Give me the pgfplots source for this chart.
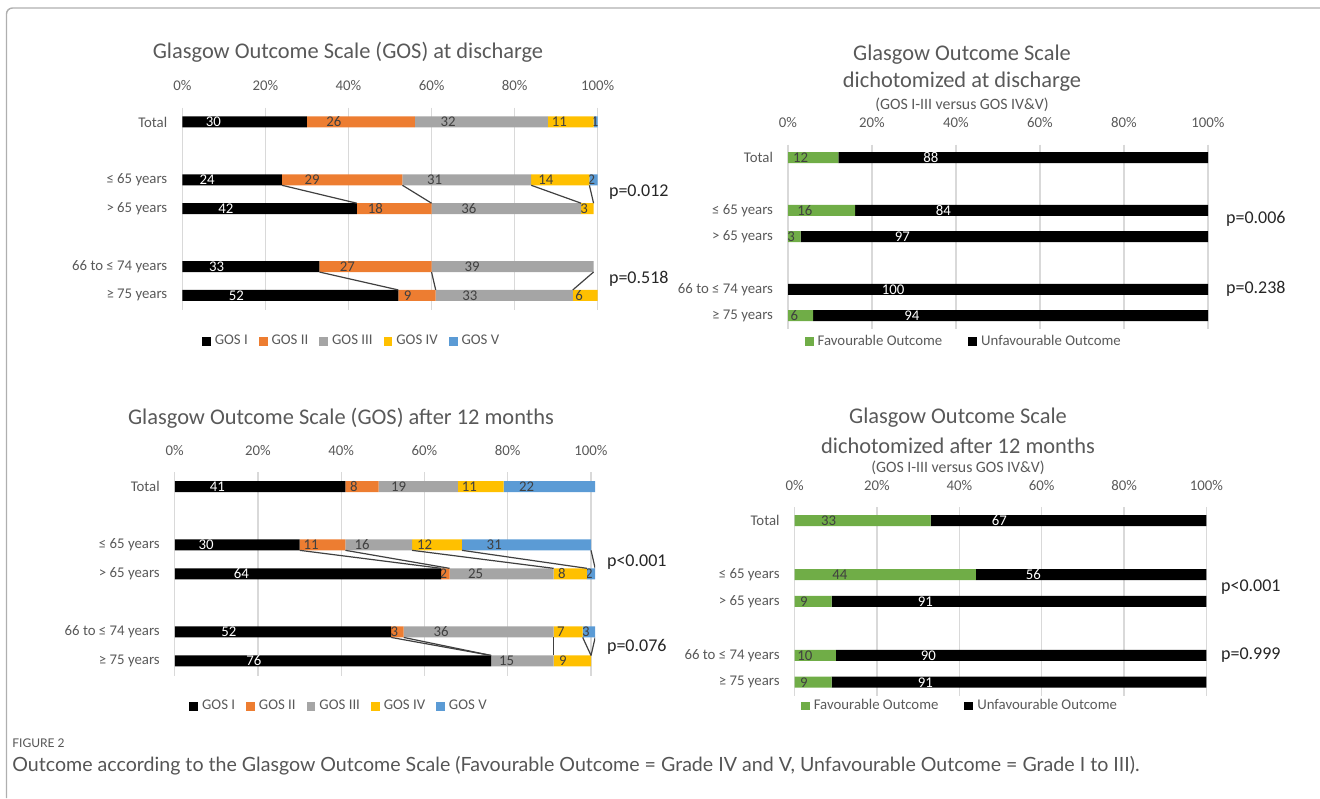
\documentclass[border=0pt]{standalone}
\usepackage{pgfplots}
\pgfplotsset{compat=1.18}
\usepackage{fontspec}
\setmainfont{Carlito}
\newfontfamily\capfont{Lato}

\definecolor{gosI}{HTML}{000000}
\definecolor{gosII}{HTML}{ED7D31}
\definecolor{gosIII}{HTML}{A5A5A5}
\definecolor{gosIV}{HTML}{FFC000}
\definecolor{gosV}{HTML}{5B9BD5}
\definecolor{fav}{HTML}{70AD47}
\definecolor{txt}{HTML}{595959}
\definecolor{gridc}{HTML}{D9D9D9}
\definecolor{lbl}{HTML}{404040}
\definecolor{framec}{HTML}{AFAFAF}
\definecolor{captxt}{HTML}{555555}

\newcommand\ticksize{\fontsize{7.4}{8.5}\selectfont}

\pgfplotsset{
  % common look of the four 100% stacked bar panels
  gos/.style={
    xbar stacked, scale only axis, anchor=center,
    /pgf/number format/assume math mode=true,
    xmin=0, xmax=100, ymin=-0.5, ymax=6.5, y dir=reverse,
    clip marker paths=true,
    xtick={0,20,...,100},
    xticklabel={\pgfmathprintnumber{\tick}\%},
    xticklabel pos=upper,
    ytick={0,2,3,5,6},
    yticklabels={Total,≤ 65 years,> 65 years,66 to ≤ 74 years,≥ 75 years},
    axis line style={draw=none},
    major tick length=0pt,
    xmajorgrids, grid style={gridc, line width=0.6pt},
    tick label style={text=txt, font=\ticksize},
    xticklabel style={yshift=5pt},
    yticklabel style={xshift=-4pt},
    bar width=5.5pt,
    legend columns=-1,
    legend style={draw=none, fill=none, font=\ticksize, text=txt, anchor=center,
      /tikz/every even column/.append style={column sep=3.5pt}},
    legend image code/.code={\fill[##1] (0pt,-2.2pt) rectangle (4.4pt,2.2pt);},
    visualization depends on=rawx \as \rawx,
    nodes near coords={\ifdim\rawx pt=0pt\else\pgfmathprintnumber{\rawx}\fi},
    % the node style is applied twice, hence a quarter of the segment each time
    every node near coord/.append style={anchor=center, font=\ticksize, text=lbl,
      shift={(axis direction cs:-\rawx/4,0)}},
  },
  seg/.style={fill=#1, draw=none},
  wlab/.style={every node near coord/.append style={text=white}},
  % overlay carrying the series lines between paired bars
  links/.style={scale only axis, anchor=center, hide axis,
    xmin=0, xmax=100, ymin=-0.5, ymax=6.5, y dir=reverse},
  link/.style={lbl, line width=0.6pt, no marks},
}

\begin{document}
\begin{tikzpicture}[x=0.5pt,y=0.5pt]
\path[use as bounding box] (0,0) rectangle (1320,798);
\draw[framec, line width=0.7pt, rounded corners=3pt] (1320,790) -- (6.5,790) -- (6.5,0);

% ---------------- GOS at discharge ----------------
\begin{axis}[gos, at={(195pt,294.65pt)}, width=207.7pt, height=101.2pt,
  legend style={at={(0.41,-0.155)}}]
\addplot[seg=gosI, wlab] coordinates {(30,0) (24,2) (42,3) (33,5) (52,6)};
\addplot[seg=gosII] coordinates {(26,0) (29,2) (18,3) (27,5) (9,6)};
\addplot[seg=gosIII] coordinates {(32,0) (31,2) (36,3) (39,5) (33,6)};
\addplot[seg=gosIV] coordinates {(11,0) (14,2) (3,3) (0,5) (6,6)};
\addplot[seg=gosV] coordinates {(1,0) (2,2) (0,3) (0,5) (0,6)};
\legend{GOS I,GOS II,GOS III,GOS IV,GOS V}
\end{axis}
\begin{axis}[links, at={(195pt,294.65pt)}, width=207.7pt, height=101.2pt]
\addplot[link] coordinates {(24,2.19) (42,2.81)};
\addplot[link] coordinates {(53,2.19) (60,2.81)};
\addplot[link] coordinates {(84,2.19) (96,2.81)};
\addplot[link] coordinates {(98,2.19) (99,2.81)};
\addplot[link] coordinates {(33,5.19) (52,5.81)};
\addplot[link] coordinates {(60,5.19) (61,5.81)};
\addplot[link] coordinates {(99,5.19) (94,5.81)};
\end{axis}

% ---------------- GOS after 12 months (rounded shares add up to 101) ----------------
\begin{axis}[gos, xmax=101, at={(192.49pt,112.075pt)}, width=210.2pt, height=101.65pt,
  legend style={at={(0.393,-0.153)}}]
\addplot[seg=gosI, wlab] coordinates {(41,0) (30,2) (64,3) (52,5) (76,6)};
\addplot[seg=gosII] coordinates {(8,0) (11,2) (2,3) (3,5) (0,6)};
\addplot[seg=gosIII] coordinates {(19,0) (16,2) (25,3) (36,5) (15,6)};
\addplot[seg=gosIV] coordinates {(11,0) (12,2) (8,3) (7,5) (9,6)};
\addplot[seg=gosV] coordinates {(22,0) (31,2) (2,3) (3,5) (0,6)};
\legend{GOS I,GOS II,GOS III,GOS IV,GOS V}
\end{axis}
\begin{axis}[links, xmax=101, at={(192.49pt,112.075pt)}, width=210.2pt, height=101.65pt]
\addplot[link] coordinates {(30,2.19) (64,2.81)};
\addplot[link] coordinates {(41,2.19) (66,2.81)};
\addplot[link] coordinates {(57,2.19) (91,2.81)};
\addplot[link] coordinates {(69,2.19) (99,2.81)};
\addplot[link] coordinates {(100,2.19) (101,2.81)};
\addplot[link] coordinates {(52,5.19) (76,5.81)};
\addplot[link] coordinates {(55,5.19) (76,5.81)};
\addplot[link] coordinates {(91,5.19) (91,5.81)};
\addplot[link] coordinates {(98,5.19) (100,5.81)};
\addplot[link] coordinates {(101,5.19) (100,5.81)};
\end{axis}

% ---------------- dichotomized at discharge ----------------
\begin{axis}[gos, at={(499pt,280.675pt)}, width=210pt, height=92.15pt,
  legend style={at={(0.421,-0.07)}, /tikz/every even column/.append style={column sep=11pt}}]
\addplot[seg=fav] coordinates {(12,0) (16,2) (3,3) (0,5) (6,6)};
\addplot[seg=black, wlab] coordinates {(88,0) (84,2) (97,3) (100,5) (94,6)};
\legend{Favourable Outcome,Unfavourable Outcome}
\end{axis}

% ---------------- dichotomized after 12 months ----------------
\begin{axis}[gos, at={(500.25pt,98.275pt)}, width=205.9pt, height=94.25pt,
  legend style={at={(0.404,-0.055)}, /tikz/every even column/.append style={column sep=11pt}}]
\addplot[seg=fav] coordinates {(33,0) (44,2) (9,3) (10,5) (9,6)};
\addplot[seg=black, wlab] coordinates {(67,0) (56,2) (91,3) (90,5) (91,6)};
\legend{Favourable Outcome,Unfavourable Outcome}
\end{axis}

% titles
\begin{scope}[every node/.style={text=txt}]
\node[font=\fontsize{11.2}{13}\selectfont] at (348,746) {Glasgow Outcome Scale (GOS) at discharge};
\node[font=\fontsize{11.2}{13}\selectfont] at (341,380) {Glasgow Outcome Scale (GOS) after 12 months};
\node[font=\fontsize{11.2}{13}\selectfont] at (962,743) {Glasgow Outcome Scale};
\node[font=\fontsize{11.2}{13}\selectfont] at (962,716.3) {dichotomized at discharge};
\node[font=\fontsize{7.9}{9}\selectfont] at (962,693) {(GOS I-III versus GOS IV\&V)};
\node[font=\fontsize{11.2}{13}\selectfont] at (958,380) {Glasgow Outcome Scale};
\node[font=\fontsize{11.2}{13}\selectfont] at (958,352.3) {dichotomized after 12 months};
\node[font=\fontsize{7.9}{9}\selectfont] at (958,329.7) {(GOS I-III versus GOS IV\&V)};
% p-values
\node[anchor=west, font=\fontsize{9}{10}\selectfont, text=black!85] at (602,606.3) {p=0.012};
\node[anchor=west, font=\fontsize{9}{10}\selectfont, text=black!85] at (602,518.7) {p=0.518};
\node[anchor=west, font=\fontsize{9}{10}\selectfont, text=black!85] at (1219,578.7) {p=0.006};
\node[anchor=west, font=\fontsize{9}{10}\selectfont, text=black!85] at (1219,508.7) {p=0.238};
\node[anchor=west, font=\fontsize{9}{10}\selectfont, text=black!85] at (600,236.3) {p<0.001};
\node[anchor=west, font=\fontsize{9}{10}\selectfont, text=black!85] at (600,151.3) {p=0.076};
\node[anchor=west, font=\fontsize{9}{10}\selectfont, text=black!85] at (1214,211.3) {p<0.001};
\node[anchor=west, font=\fontsize{9}{10}\selectfont, text=black!85] at (1214,143) {p=0.999};
\end{scope}

% caption
\node[anchor=west, inner sep=0pt, text=captxt, font=\capfont\fontsize{6}{7}\selectfont] at (12,55) {FIGURE 2};
\node[anchor=west, inner sep=0pt, text=captxt, font=\capfont\fontsize{9.8}{11}\selectfont] at (12,32)
  {Outcome according to the Glasgow Outcome Scale (Favourable Outcome = Grade IV and V, Unfavourable Outcome = Grade I to III).};
\end{tikzpicture}
\end{document}
